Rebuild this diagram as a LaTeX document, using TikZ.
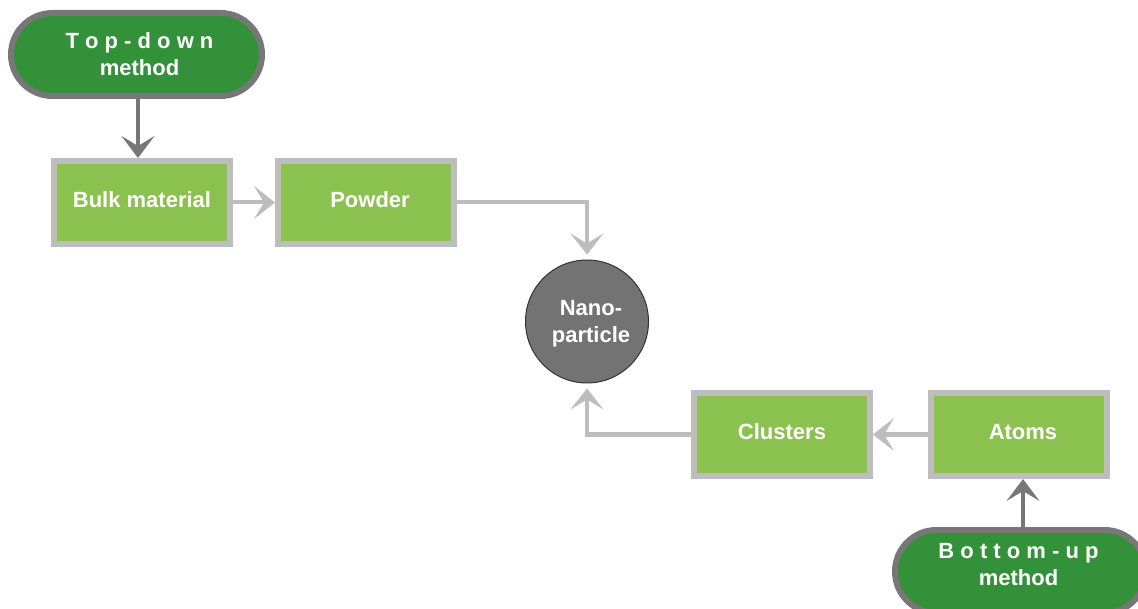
\documentclass[tikz,border=0pt]{standalone}
\usepackage{fontspec}
\setmainfont{Liberation Sans}
\usetikzlibrary{arrows.meta}

\definecolor{pillgreen}{HTML}{339139}
\definecolor{pillrim}{HTML}{777777}
\definecolor{boxgreen}{HTML}{8BC14F}
\definecolor{boxrim}{HTML}{BDBDBD}
\definecolor{nanofill}{HTML}{737373}
\definecolor{nanorim}{HTML}{333333}
\definecolor{darklink}{HTML}{777777}
\definecolor{lightlink}{HTML}{BDBDBD}

\tikzset{
  lbl/.style={text=white, font=\fontsize{22}{27}\selectfont\bfseries, align=center},
  pill/.style={draw=pillrim, fill=pillgreen, line width=6pt, rounded corners=41.5pt,
    minimum width=251pt, minimum height=83pt, inner sep=0pt},
  stage/.style={draw=boxrim, fill=boxgreen, line width=6pt,
    minimum width=176pt, minimum height=83pt, inner sep=0pt},
  nano/.style={circle, draw=nanorim, fill=nanofill, line width=1pt,
    minimum size=123pt, inner sep=0pt},
  darkarrow/.style={draw=darklink, line width=4.5pt,
    -{Stealth[length=22pt, width=33pt, inset=10pt]}},
  lightarrow/.style={draw=lightlink, line width=4pt,
    -{Stealth[length=21pt, width=33pt, inset=10pt]}}
}

\begin{document}
\begin{tikzpicture}[x=1pt, y=-1pt]
  \useasboundingbox (0,0) rectangle (1138,609);

  % shapes of the process stages
  \node[pill]  (top)   at (136.5,54.5) {};
  \node[stage] (bulk)  at (142,202.5)  {};
  \node[stage] (powd)  at (366,202.5)  {};
  \node[nano]  (np)    at (587,321.5)  {};
  \node[stage] (clus)  at (782,434.5)  {};
  \node[stage] (atoms) at (1019,434.5) {};
  \node[pill]  (bot)   at (1020.5,571.5) {};

  % stage labels
  \node[lbl] (toptxt)   at ([xshift=3pt,yshift=0.5pt]top.center)  {T o p - d o w n\\method};
  \node[lbl] (bulktxt)  at ([yshift=2.5pt]bulk.center)            {Bulk material};
  \node[lbl] (powdtxt)  at ([xshift=4pt,yshift=2.5pt]powd.center) {Powder};
  \node[lbl] (nptxt)    at ([xshift=4pt,yshift=-2pt]np.center)    {Nano-\\particle};
  \node[lbl] (clustxt)  at ([yshift=3pt]clus.center)              {Clusters};
  \node[lbl] (atomstxt) at ([xshift=4pt,yshift=2pt]atoms.center)  {Atoms};
  \node[lbl] (bottxt)   at ([xshift=-2pt,yshift=6.5pt]bot.center) {B o t t o m - u p\\method};

  % flows
  \draw[darkarrow] ([xshift=1.5pt]top.south) -- ([xshift=1.5pt]top.south |- bulk.north);
  \draw[lightarrow] (bulk.east) -- (powd.west);
  \draw[lightarrow, shorten >=5pt] (powd.east) -| (np.north);
  \draw[lightarrow] (atoms.west) -- (clus.east);
  \draw[lightarrow, shorten >=5pt] (clus.west) -| (np.south);
  \draw[darkarrow] ([xshift=2.5pt]bot.north) -- ([xshift=2.5pt]bot.north |- atoms.south);
\end{tikzpicture}
\end{document}
